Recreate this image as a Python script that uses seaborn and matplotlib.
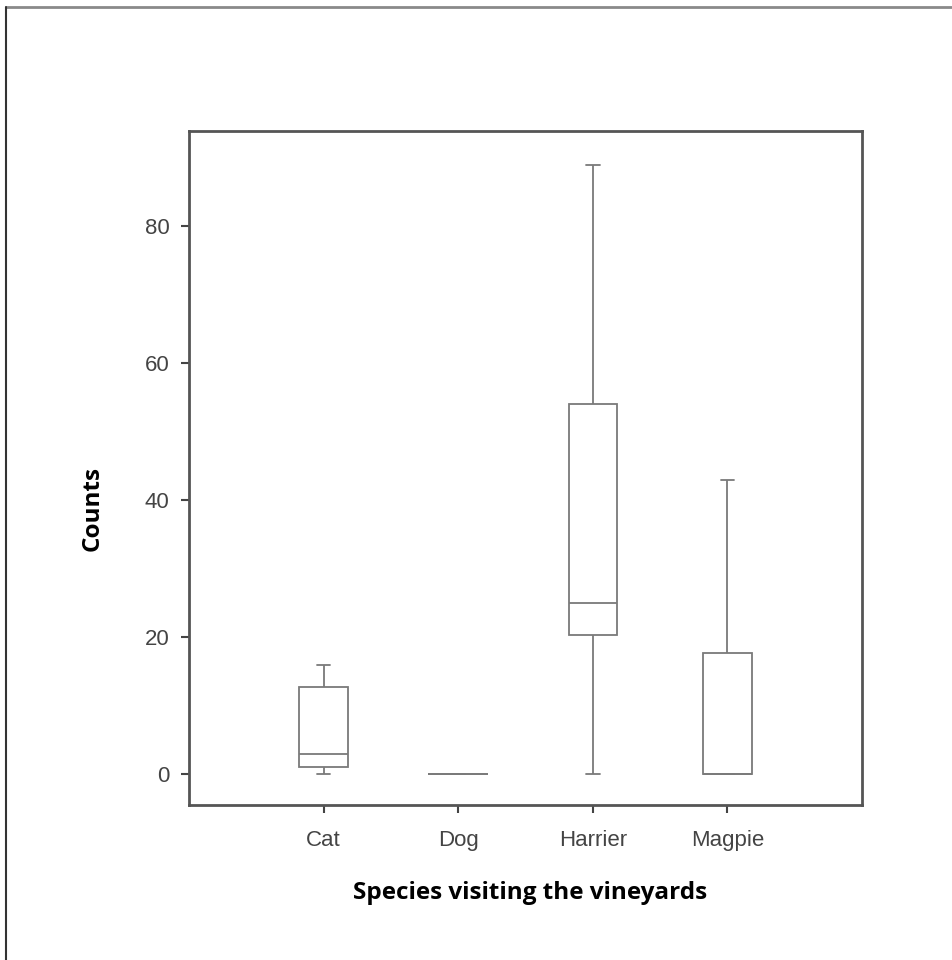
import numpy as np
import pandas as pd
import matplotlib
matplotlib.use("Agg")
import matplotlib.pyplot as plt
from matplotlib.lines import Line2D
import seaborn as sns

# Observed counts per species (min, Q1, median, Q3, max)
species = ["Cat", "Dog", "Harrier", "Magpie"]
cat_counts = [0, 1, 3, 12.7, 16]
dog_counts = [0, 0, 0, 0, 0]
harrier_counts = [0, 20.3, 25, 54, 89]
magpie_counts = [0, 0, 0, 17.7, 43]
y_ticks = [0, 20, 40, 60, 80]

df = pd.DataFrame({
    "species": np.repeat(species, 5),
    "count": cat_counts + dog_counts + harrier_counts + magpie_counts,
})

sns.set_style("ticks")
plt.rcParams["font.family"] = ["Liberation Sans", "DejaVu Sans"]

fig = plt.figure(figsize=(9.52, 9.6), dpi=100)
ax = fig.add_axes([0.1985, 0.1615, 0.707, 0.702])

BOX_W, DOG_W = 0.36, 0.45
box_kw = dict(x="species", y="count", order=species, whis=(0, 100),
              color="white", linecolor="#7a7a7a", linewidth=1.3,
              showfliers=False, ax=ax)
sns.boxplot(data=df[df["species"] != "Dog"], width=BOX_W, **box_kw)
sns.boxplot(data=df[df["species"] == "Dog"], width=DOG_W, **box_kw)

# narrow the whisker caps (seaborn draws them at half the box width)
CAP = 0.1
for ln in ax.lines:
    xd = np.asarray(ln.get_xdata(), dtype=float)
    yd = np.asarray(ln.get_ydata(), dtype=float)
    if len(xd) == 2 and yd[0] == yd[1]:
        span = abs(xd[1] - xd[0])
        if np.isclose(span, BOX_W / 2) or np.isclose(span, DOG_W / 2):
            mid = xd.mean()
            ln.set_xdata([mid - CAP / 2, mid + CAP / 2])

ax.set_xlim(-1, 4)
ax.set_ylim(-4.5, 93.9)
ax.set_yticks(y_ticks)
ax.set_xlabel("")
ax.set_ylabel("")

for s in ax.spines.values():
    s.set_visible(True)
    s.set_color("#555555")
    s.set_linewidth(2.0)
ax.tick_params(axis="both", direction="out", length=6, width=1.5,
               color="#444444", labelsize=16, labelcolor="#444444")
ax.tick_params(axis="x", pad=12)
ax.tick_params(axis="y", pad=8)

fig.text(0.557, 0.07, "Species visiting the vineyards", ha="center", va="center",
         fontsize=17.5, fontweight="bold", color="black",
         family=["Open Sans", "DejaVu Sans"])
fig.text(0.097, 0.47, "Counts", ha="center", va="center", rotation=90,
         fontsize=17.5, fontweight="bold", color="black",
         family=["Open Sans", "DejaVu Sans"])

# page frame
fig.add_artist(Line2D([6 / 952, 1.0], [1 - 7 / 960, 1 - 7 / 960],
                      transform=fig.transFigure, color="#8a8a8a", linewidth=2))
fig.add_artist(Line2D([6 / 952, 6 / 952], [0.0, 1 - 7 / 960],
                      transform=fig.transFigure, color="#333333", linewidth=1.5))

fig.savefig("out.png", dpi=100, facecolor="white")
